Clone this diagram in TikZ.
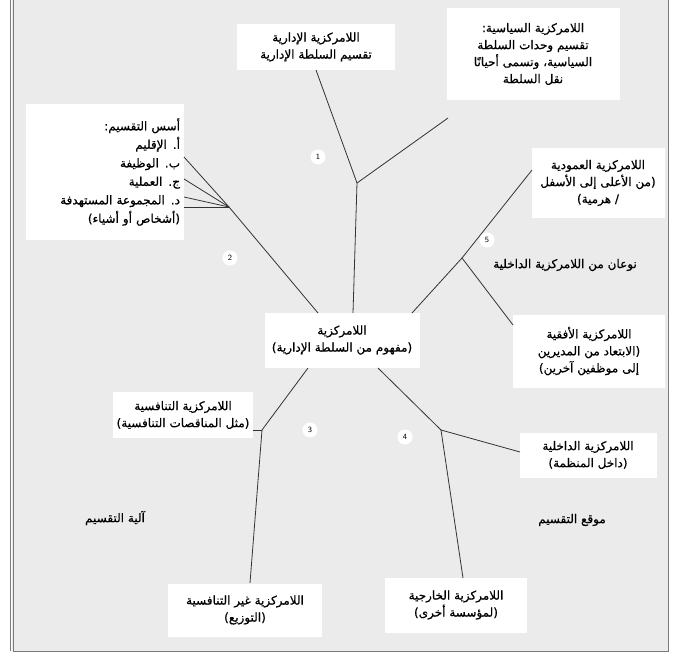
\documentclass[tikz,border=0pt]{standalone}
\usepackage{fontspec}
\TeXXeTstate=1
\newfontfamily\arabicfont[Script=Arabic, FakeBold=0.6]{DejaVu Sans}
\newcommand{\ar}[1]{\beginR #1\endR}
\definecolor{bgc}{HTML}{EBEBEB}
\definecolor{linec}{HTML}{333333}
\definecolor{framec}{HTML}{7A7A7A}
\tikzset{
  box/.style={fill=white, inner sep=3pt, align=center,
    font=\arabicfont\fontsize{12}{17}\selectfont},
  plain/.style={inner sep=0pt, font=\arabicfont\fontsize{12}{17}\selectfont},
  num/.style={circle, fill=white, inner sep=0pt, minimum size=15pt,
    font=\sffamily\fontsize{8}{8}\selectfont},
  link/.style={draw=linec, line width=0.8pt},
}
\begin{document}
\begin{tikzpicture}[x=1pt,y=-1pt]
\useasboundingbox (0,0) rectangle (682,659);
\fill[white] (0,0) rectangle (682,659);
\fill[bgc] (12,0) rectangle (668,651);
\draw[framec, line width=0.8pt] (10,0) -- (10,651);
\draw[framec, line width=0.8pt] (13,0) -- (13,651) -- (668,651) -- (668,0);

% boxes
\node[box, minimum width=158pt, minimum height=46pt] (adm) at (316,47)
  {\ar{اللامركزية الإدارية}\\\ar{تقسيم السلطة الإدارية}};
\node[box, minimum width=173pt, minimum height=92pt] (pol) at (533,54)
  {\ar{اللامركزية السياسية:}\\\ar{تقسيم وحدات السلطة}\\\ar{السياسية، وتسمى أحيانًا}\\\ar{نقل السلطة}};
\node[box, minimum width=158pt, minimum height=136pt, text width=150pt, align=right,
  font=\arabicfont\fontsize{12}{18.5}\selectfont] (bas) at (105,172)
  {\ar{أسس التقسيم:}\\\ar{أ. الإقليم}\\\ar{ب. الوظيفة}\\\ar{ج. العملية}\\\ar{د. المجموعة المستهدفة}\\\ar{(أشخاص أو أشياء)}};
\node[box, minimum width=133pt, minimum height=70pt] (ver) at (598,183)
  {\ar{اللامركزية العمودية}\\\ar{(من الأعلى إلى الأسفل}\\\ar{/ هرمية)}};
\node[box, minimum width=152pt, minimum height=73pt] (hor) at (589,351)
  {\ar{اللامركزية الأفقية}\\\ar{(الابتعاد من المديرين}\\\ar{إلى موظفين آخرين)}};
\node[box, minimum width=155pt, minimum height=55pt] (dec) at (342,340)
  {\ar{اللامركزية}\\\ar{(مفهوم من السلطة الإدارية)}};
\node[box, minimum width=140pt, minimum height=46pt] (com) at (183,415)
  {\ar{اللامركزية التنافسية}\\\ar{(مثل المناقصات التنافسية)}};
\node[box, minimum width=137pt, minimum height=45pt] (int) at (588,455)
  {\ar{اللامركزية الداخلية}\\\ar{(داخل المنظمة)}};
\node[box, minimum width=154pt, minimum height=53pt] (ncm) at (245,610)
  {\ar{اللامركزية غير التنافسية}\\\ar{(التوزيع)}};
\node[box, minimum width=142pt, minimum height=55pt] (ext) at (456,605)
  {\ar{اللامركزية الخارجية}\\\ar{(لمؤسسة أخرى)}};

% free labels
\node[plain] (mech) at (115,518) {\ar{آلية التقسيم}};
\node[plain] (loc) at (572,520) {\ar{موقع التقسيم}};
\node[plain] (two) at (565,265) {\ar{نوعان من اللامركزية الداخلية}};

% junctions and end points
\coordinate (j1) at (357,183);
\coordinate (j2) at (229,207);
\coordinate (j3) at (262,430);
\coordinate (j4) at (441,430);
\coordinate (j5) at (462,258);
\coordinate (d1) at (318,313);
\coordinate (d2) at (353,313);
\coordinate (d3) at (412,313);
\coordinate (d4) at (308,368);
\coordinate (d5) at (378,368);
\coordinate (a1) at (316,70);
\coordinate (p1) at (448,118);
\coordinate (v1) at (532,170);
\coordinate (h1) at (513,325);
\coordinate (b1) at (184,157);
\coordinate (b2) at (184,179);
\coordinate (b3) at (184,197);
\coordinate (b4) at (184,207);
\coordinate (n1) at (250,583);
\coordinate (i1) at (520,452);
\coordinate (e1) at (463,578);

\draw[link] (d1) -- (j2);
\draw[link] (j2) -- (b1);
\draw[link] (j2) -- (b2);
\draw[link] (j2) -- (b3);
\draw[link] (j2) -- (b4);
\draw[link] (d2) -- (j1);
\draw[link] (j1) -- (a1);
\draw[link] (j1) -- (p1);
\draw[link] (d3) -- (j5);
\draw[link] (j5) -- (v1);
\draw[link] (j5) -- (h1);
\draw[link] (d4) -- (j3);
\draw[link] (j3) -- (com.east |- j3);
\draw[link] (j3) -- (n1);
\draw[link] (d5) -- (j4);
\draw[link] (j4) -- (i1);
\draw[link] (j4) -- (e1);

% numbered markers
\node[num] (n1m) at (318,157) {1};
\node[num] (n2m) at (230,258) {2};
\node[num] (n3m) at (310,430) {3};
\node[num] (n4m) at (405,437) {4};
\node[num] (n5m) at (487,240) {5};
\end{tikzpicture}
\end{document}
